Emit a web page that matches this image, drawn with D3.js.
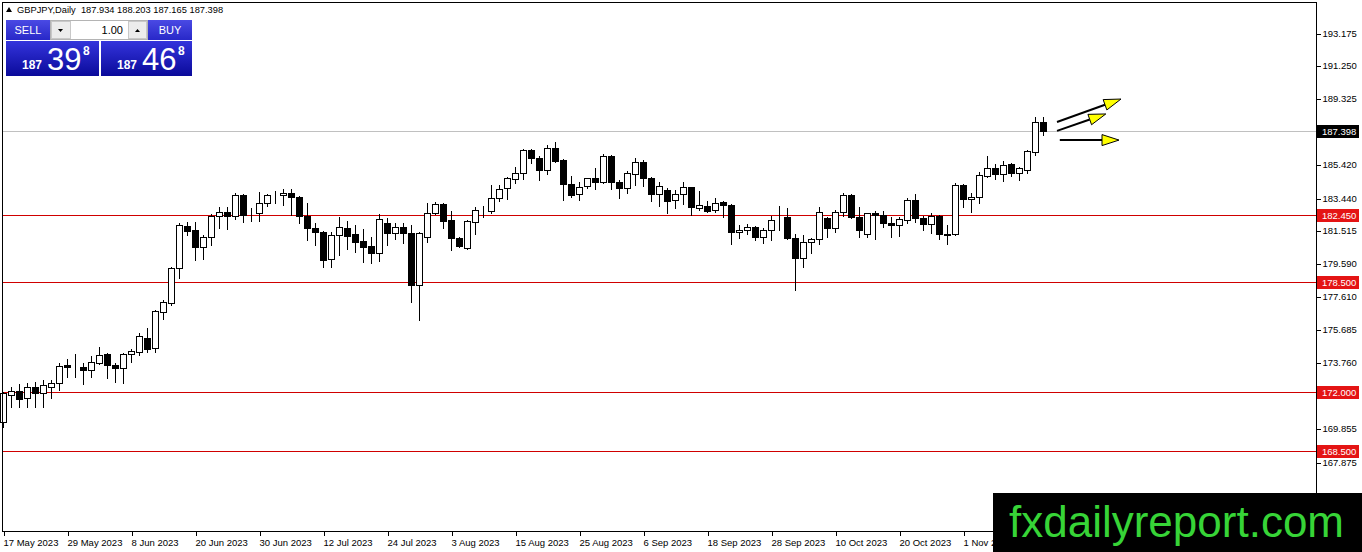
<!DOCTYPE html>
<html>
<head>
<meta charset="utf-8">
<script src="https://cdn.jsdelivr.net/npm/d3@7"></script>
<style>
body { margin: 0; background: #fff; }
svg { display: block; font-family: "Liberation Sans", Arial, sans-serif; }
</style>
</head>
<body>
<svg></svg>
<script>
let width = 1362, height = 552;
let plotLeft = 3, plotRight = 1316, plotTop = 3, plotBottom = 531;

// GBPJPY daily bars, 17 May 2023 .. 16 Nov 2023
let open = [
  170.24, 171.83, 172.06, 171.65, 172.30, 171.94, 172.30, 172.53, 173.60, 173.48,
  173.48, 173.30, 173.71, 174.24, 173.60, 173.42, 174.24, 174.36, 175.19, 174.60,
  176.72, 177.25, 179.32, 181.79, 181.56, 180.56, 181.14, 182.38, 182.62, 182.38,
  183.62, 182.56, 182.56, 183.15, 183.68, 183.62, 183.74, 183.50, 182.38, 181.68,
  181.44, 179.85, 181.26, 181.68, 181.32, 180.91, 180.61, 180.20, 181.97, 181.38,
  181.74, 181.38, 178.31, 181.14, 182.56, 183.09, 182.15, 181.09, 180.50, 182.03,
  182.68, 182.68, 183.44, 184.03, 184.56, 184.92, 186.27, 185.80, 185.09, 186.39,
  185.68, 184.27, 183.68, 184.15, 184.63, 184.39, 185.92, 184.39, 184.03, 184.86,
  185.57, 184.63, 183.68, 183.92, 183.33, 183.68, 184.09, 182.86, 182.97, 182.74,
  183.21, 183.03, 181.44, 181.56, 181.74, 181.14, 181.56, 182.09, 182.32, 181.09,
  179.91, 180.85, 181.03, 182.26, 181.68, 182.62, 183.62, 182.32, 181.32, 182.56,
  182.44, 181.97, 181.85, 182.15, 183.33, 182.26, 181.91, 182.38, 181.32, 181.32,
  184.21, 183.39, 183.50, 184.74, 185.21, 184.86, 185.45, 184.92, 185.09, 186.16,
  187.934
];
let high = [
  172.00, 172.30, 172.47, 172.53, 172.59, 172.71, 172.71, 173.71, 173.95, 174.24,
  173.71, 174.13, 174.66, 174.30, 173.71, 174.30, 174.54, 175.48, 175.78, 176.84,
  177.43, 179.38, 181.97, 182.03, 182.03, 181.26, 182.50, 182.91, 182.91, 183.74,
  183.68, 182.86, 183.80, 183.68, 183.86, 183.98, 183.98, 183.56, 183.15, 181.97,
  181.50, 181.44, 182.32, 182.09, 181.85, 181.62, 181.14, 182.50, 182.26, 181.97,
  181.97, 181.85, 181.44, 183.15, 183.21, 183.15, 182.68, 181.14, 182.15, 182.91,
  182.97, 184.21, 184.21, 184.68, 185.27, 186.33, 186.33, 185.92, 186.57, 186.75,
  185.74, 184.74, 184.39, 184.63, 185.21, 186.04, 185.98, 184.51, 185.04, 185.80,
  185.68, 184.68, 184.39, 184.03, 183.92, 184.39, 184.12, 183.86, 183.27, 183.44,
  183.27, 183.09, 181.85, 181.91, 181.79, 181.68, 182.38, 182.97, 182.86, 181.32,
  181.26, 181.09, 182.91, 182.30, 182.74, 183.74, 183.68, 182.91, 182.56, 182.68,
  182.68, 182.32, 182.32, 183.44, 183.68, 182.38, 182.56, 182.44, 181.85, 184.33,
  184.27, 183.74, 184.98, 185.92, 185.45, 185.63, 185.51, 185.27, 186.27, 188.22,
  188.203
];
let low = [
  169.94, 171.12, 171.12, 171.12, 171.12, 171.12, 171.65, 172.12, 172.89, 172.89,
  172.47, 172.89, 173.65, 172.83, 172.59, 172.53, 173.77, 174.19, 174.36, 174.36,
  176.31, 177.13, 178.73, 181.26, 179.79, 179.85, 180.67, 181.68, 181.62, 182.21,
  182.03, 182.09, 182.09, 182.97, 183.15, 183.03, 182.44, 181.97, 180.97, 180.67,
  179.38, 179.38, 180.08, 180.44, 180.26, 179.67, 179.61, 179.73, 180.67, 181.03,
  180.79, 177.31, 176.25, 180.85, 182.50, 181.68, 180.38, 180.56, 180.45, 181.32,
  182.32, 182.56, 183.27, 183.39, 184.33, 184.56, 185.51, 184.51, 184.86, 185.57,
  183.33, 183.50, 183.33, 184.03, 183.98, 184.33, 183.98, 183.44, 183.74, 184.21,
  184.15, 183.27, 182.97, 182.56, 182.86, 183.09, 182.44, 182.74, 182.62, 182.62,
  182.32, 180.73, 181.09, 181.32, 180.97, 180.79, 180.97, 181.56, 181.03, 178.02,
  179.38, 180.20, 180.73, 181.14, 181.44, 182.38, 182.26, 181.14, 181.14, 181.03,
  181.74, 181.14, 181.20, 181.97, 182.03, 181.56, 181.38, 181.03, 180.73, 181.26,
  182.91, 182.62, 183.15, 184.68, 184.56, 184.45, 184.74, 184.51, 184.92, 185.98,
  187.165
];
let close = [
  171.94, 172.06, 171.59, 172.30, 171.94, 172.42, 172.53, 173.54, 173.48, 173.50,
  173.30, 173.77, 174.19, 173.60, 173.42, 174.24, 174.42, 175.31, 174.54, 176.78,
  177.31, 179.32, 181.85, 181.50, 180.56, 181.14, 182.38, 182.62, 182.38, 183.62,
  182.44, 182.58, 183.15, 183.62, 183.70, 183.74, 183.50, 182.38, 181.68, 181.44,
  179.79, 181.26, 181.74, 181.20, 180.85, 180.56, 180.20, 182.21, 181.38, 181.74,
  181.38, 178.31, 181.38, 182.56, 183.09, 182.09, 181.09, 180.61, 182.09, 182.74,
  182.70, 183.44, 183.98, 184.63, 184.92, 186.27, 185.80, 185.09, 186.39, 185.63,
  184.27, 183.62, 184.09, 184.60, 184.39, 185.92, 184.39, 184.03, 184.92, 185.57,
  184.63, 183.68, 184.15, 183.27, 183.68, 184.09, 182.91, 183.03, 182.68, 183.15,
  183.03, 181.44, 181.56, 181.74, 181.14, 181.56, 182.15, 182.11, 181.09, 179.91,
  180.85, 181.03, 182.62, 181.68, 182.62, 183.62, 182.32, 181.56, 182.56, 182.44,
  181.97, 181.85, 182.21, 183.33, 182.26, 181.91, 182.38, 181.32, 181.26, 184.21,
  183.39, 183.50, 184.80, 185.21, 184.86, 185.39, 184.92, 185.21, 186.22, 187.93,
  187.398
];

// bottom axis, one label every 8 bars (the one under the watermark is left out)
let dateLabels = ["17 May 2023", "29 May 2023", "8 Jun 2023", "20 Jun 2023", "30 Jun 2023",
  "12 Jul 2023", "24 Jul 2023", "3 Aug 2023", "15 Aug 2023", "25 Aug 2023", "6 Sep 2023",
  "18 Sep 2023", "28 Sep 2023", "10 Oct 2023", "20 Oct 2023", "1 Nov 2023"];
let labelStep = 8;

let priceTicks = [193.175, 191.250, 189.325, 185.420, 183.440, 181.515,
  179.590, 177.610, 175.685, 173.760, 171.780, 169.855, 167.875];
let levels = [182.450, 178.500, 172.000, 168.500];

let symbol = "GBPJPY,Daily";
let bid = 187.398, ask = 187.468;
let lots = "1.00";

// hand drawn arrows: [bar index, price] -> [bar index, price]
let arrows = [
  {from: [131.75, 187.93], to: [139.75, 189.28]},
  {from: [131.75, 187.40], to: [137.85, 188.40]},
  {from: [132.1, 186.86], to: [139.5, 186.86]}
];

let svg = d3.select("svg")
    .attr("width", width)
    .attr("height", height)
    .attr("viewBox", "0 0 " + width + " " + height);

let bars = open.map((o, i) => ({i: i, o: o, h: high[i], l: low[i], c: close[i]}));

let x = d3.scaleLinear()
    .domain([0, 130])
    .range([plotLeft, plotLeft + 130 * 8]);

let y = d3.scaleLinear()
    .domain([167.875, 193.175])
    .range([462, 33]);

let px = v => Math.round(v) + 0.5;

let defs = svg.append("defs");
let g1 = defs.append("linearGradient").attr("id", "boxBlue")
    .attr("x1", 0).attr("y1", 0).attr("x2", 0).attr("y2", 1);
g1.append("stop").attr("offset", "0%").attr("stop-color", "#3434dc");
g1.append("stop").attr("offset", "100%").attr("stop-color", "#0a0a9a");
let g2 = defs.append("linearGradient").attr("id", "btnBlue")
    .attr("x1", 0).attr("y1", 0).attr("x2", 0).attr("y2", 1);
g2.append("stop").attr("offset", "0%").attr("stop-color", "#4a4ae4");
g2.append("stop").attr("offset", "100%").attr("stop-color", "#2828c8");

svg.append("rect")
    .attr("width", width).attr("height", height)
    .attr("fill", "#fff");

// support / resistance levels
svg.append("g")
    .attr("id", "levels")
    .selectAll("line")
    .data(levels)
    .enter()
    .append("line")
    .attr("x1", plotLeft).attr("x2", plotRight)
    .attr("y1", d => px(y(d))).attr("y2", d => px(y(d)))
    .attr("stroke", "#d00000")
    .attr("shape-rendering", "crispEdges");

// bid line
svg.append("line")
    .attr("x1", plotLeft).attr("x2", plotRight)
    .attr("y1", px(y(bid))).attr("y2", px(y(bid)))
    .attr("stroke", "#c0c0c0")
    .attr("shape-rendering", "crispEdges");

// candles
let candles = svg.append("g")
    .attr("id", "candles")
    .attr("shape-rendering", "crispEdges")
    .selectAll("g")
    .data(bars)
    .enter()
    .append("g");

candles.append("line")
    .attr("x1", d => Math.round(x(d.i)) + 0.5)
    .attr("x2", d => Math.round(x(d.i)) + 0.5)
    .attr("y1", d => Math.round(y(d.h)))
    .attr("y2", d => Math.round(y(d.l)) + 1)
    .attr("stroke", "#000");

candles.append("rect")
    .attr("x", d => Math.round(x(d.i)) - 2.5)
    .attr("y", d => Math.round(y(Math.max(d.o, d.c))) + 0.5)
    .attr("width", 6)
    .attr("height", d => Math.max(0, Math.round(y(Math.min(d.o, d.c))) - Math.round(y(Math.max(d.o, d.c)))))
    .attr("fill", d => d.c >= d.o ? "#fff" : "#000")
    .attr("stroke", "#000");

// arrows
let arrowG = svg.append("g").attr("id", "arrows");
arrows.forEach(a => {
    let x0 = x(a.from[0]), y0 = y(a.from[1]);
    let x1 = x(a.to[0]), y1 = y(a.to[1]);
    let ang = Math.atan2(y1 - y0, x1 - x0);
    let len = 17, half = 5.5;
    let bx = x1 - len * Math.cos(ang), by = y1 - len * Math.sin(ang);
    arrowG.append("line")
        .attr("x1", x0).attr("y1", y0)
        .attr("x2", bx).attr("y2", by)
        .attr("stroke", "#000")
        .attr("stroke-width", 2);
    let pts = [
        [x1, y1],
        [bx + half * Math.sin(ang), by - half * Math.cos(ang)],
        [bx - half * Math.sin(ang), by + half * Math.cos(ang)]
    ];
    arrowG.append("polygon")
        .attr("points", pts.map(p => p.join(",")).join(" "))
        .attr("fill", "#ffff00")
        .attr("stroke", "#000")
        .attr("stroke-width", 1);
});

// frame
svg.append("rect")
    .attr("x", plotLeft - 0.5).attr("y", plotTop - 0.5)
    .attr("width", plotRight - plotLeft + 1)
    .attr("height", plotBottom - plotTop + 1)
    .attr("fill", "none")
    .attr("stroke", "#000")
    .attr("shape-rendering", "crispEdges");

// price axis
let yAxis = svg.append("g")
    .attr("transform", "translate(" + (plotRight + 0.5) + ",0)")
    .call(d3.axisRight(y)
        .tickValues(priceTicks)
        .tickFormat(d3.format(".3f"))
        .tickSize(4)
        .tickPadding(2));
yAxis.select(".domain").remove();
yAxis.selectAll("line").attr("stroke", "#000").attr("shape-rendering", "crispEdges")
    .attr("transform", "translate(0,0.5)");
yAxis.selectAll("text")
    .attr("font-family", "Liberation Sans, Arial, sans-serif")
    .attr("font-size", "9.5px")
    .attr("fill", "#000");

// date axis
let xAxis = svg.append("g")
    .attr("transform", "translate(0," + (plotBottom + 0.5) + ")")
    .call(d3.axisBottom(x)
        .tickValues(dateLabels.map((d, k) => k * labelStep))
        .tickFormat(i => dateLabels[i / labelStep])
        .tickSize(4)
        .tickPadding(4));
xAxis.select(".domain").remove();
xAxis.selectAll("line").attr("stroke", "#000").attr("shape-rendering", "crispEdges")
    .attr("transform", "translate(0.5,0)");
xAxis.selectAll("text")
    .attr("text-anchor", "start")
    .attr("font-family", "Liberation Sans, Arial, sans-serif")
    .attr("font-size", "9.5px")
    .attr("fill", "#000");

// price tags on the axis
let tags = levels.map(v => ({v: v, bg: "#e41414"})).concat([{v: bid, bg: "#000"}]);
let tagG = svg.append("g").attr("id", "tags");
tagG.selectAll("rect")
    .data(tags)
    .enter()
    .append("rect")
    .attr("x", plotRight + 1)
    .attr("y", d => Math.round(y(d.v)) - 6)
    .attr("width", 42)
    .attr("height", 13)
    .attr("fill", d => d.bg);
tagG.selectAll("text")
    .data(tags)
    .enter()
    .append("text")
    .attr("x", plotRight + 6)
    .attr("y", d => Math.round(y(d.v)) + 4)
    .attr("font-size", "9.5px")
    .attr("fill", "#fff")
    .text(d => d.v.toFixed(3));

// title line
svg.append("polygon")
    .attr("points", "6,12 9,7 12,12")
    .attr("fill", "#000");
svg.append("text")
    .attr("x", 17).attr("y", 13)
    .attr("font-size", "9.3px")
    .attr("xml:space", "preserve")
    .text(symbol + "  " + [open[130], high[130], low[130], close[130]].map(v => v.toFixed(3)).join(" "));

// one-click trading panel
let panel = svg.append("g").attr("id", "panel");
panel.append("rect").attr("x", 6).attr("y", 20).attr("width", 44).attr("height", 20)
    .attr("fill", "url(#btnBlue)");
panel.append("text").attr("x", 28).attr("y", 34).attr("text-anchor", "middle")
    .attr("font-size", "11px").attr("fill", "#fff").text("SELL");
panel.append("rect").attr("x", 148).attr("y", 20).attr("width", 44).attr("height", 20)
    .attr("fill", "url(#btnBlue)");
panel.append("text").attr("x", 170).attr("y", 34).attr("text-anchor", "middle")
    .attr("font-size", "11px").attr("fill", "#fff").text("BUY");

panel.append("rect").attr("x", 50.5).attr("y", 20.5).attr("width", 97).attr("height", 19)
    .attr("fill", "#fff").attr("stroke", "#b4b4b4");
panel.append("rect").attr("x", 51.5).attr("y", 21.5).attr("width", 19).attr("height", 17)
    .attr("fill", "#ececec").attr("stroke", "#c8c8c8");
panel.append("rect").attr("x", 128.5).attr("y", 21.5).attr("width", 18).attr("height", 17)
    .attr("fill", "#ececec").attr("stroke", "#c8c8c8");
panel.append("polygon").attr("points", "58,29 63,29 60.5,32").attr("fill", "#000");
panel.append("polygon").attr("points", "135,32 140,32 137.5,29").attr("fill", "#000");
panel.append("text").attr("x", 123).attr("y", 34).attr("text-anchor", "end")
    .attr("font-size", "11px").attr("fill", "#000").text(lots);

let quotes = [{v: bid, x: 6, w: 93}, {v: ask, x: 101, w: 91}];
quotes.forEach(q => {
    let s = q.v.toFixed(3);
    panel.append("rect").attr("x", q.x).attr("y", 41).attr("width", q.w).attr("height", 35)
        .attr("fill", "url(#boxBlue)");
    panel.append("text").attr("x", q.x + 16).attr("y", 69)
        .attr("font-size", "12px").attr("font-weight", "bold").attr("fill", "#fff")
        .text(s.slice(0, 3));
    panel.append("text").attr("x", q.x + 41).attr("y", 70)
        .attr("font-size", "31px").attr("fill", "#fff")
        .text(s.slice(4, 6));
    panel.append("text").attr("x", q.x + 77).attr("y", 55)
        .attr("font-size", "12px").attr("font-weight", "bold").attr("fill", "#fff")
        .text(s.slice(6));
});

// watermark
svg.append("rect")
    .attr("x", 993).attr("y", 493)
    .attr("width", width - 993).attr("height", height - 493)
    .attr("fill", "#000");
svg.append("text")
    .attr("x", 1009).attr("y", 537)
    .attr("font-size", "44px")
    .attr("fill", "#37d437")
    .text("fxdailyreport.com");
</script>
</body>
</html>
